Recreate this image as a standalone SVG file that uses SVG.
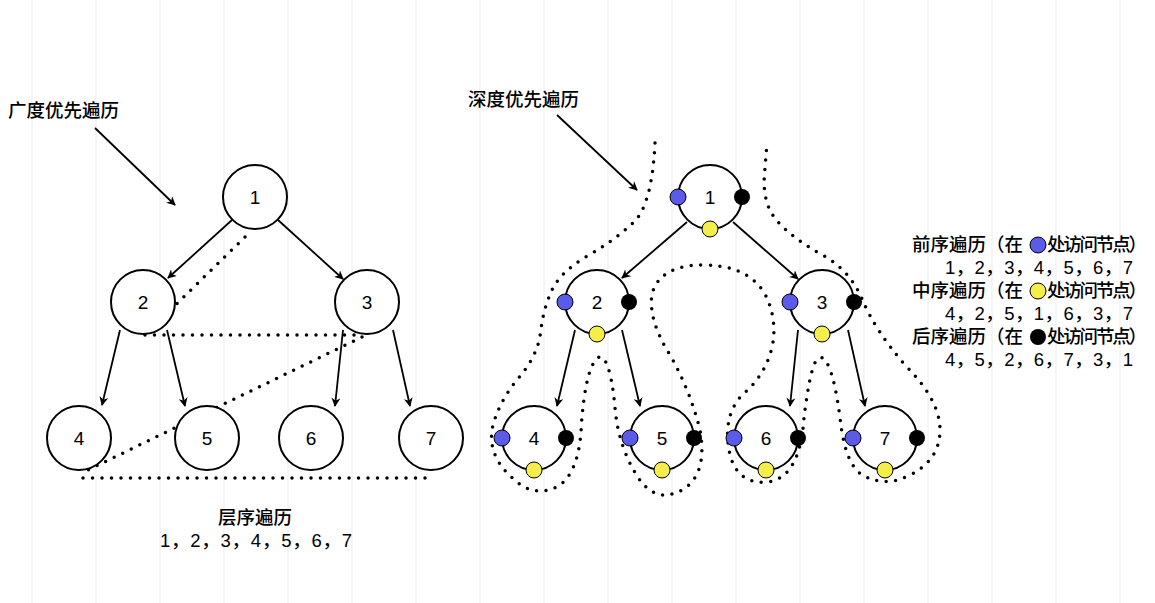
<svg xmlns="http://www.w3.org/2000/svg" width="1155" height="603" viewBox="0 0 1155 603">
<defs>
<marker id="ah" viewBox="0 0 10 10" refX="9" refY="5" markerWidth="9" markerHeight="9" orient="auto" markerUnits="userSpaceOnUse"><path d="M0,0 L10,5 L0,10 L3,5 Z" fill="#000"/></marker>
<style>
.n{fill:#fff;stroke:#000;stroke-width:2}
.t{font-family:"Liberation Sans","Noto Sans CJK SC",sans-serif;font-size:19px;fill:#000}
.c{font-family:"Liberation Sans","Noto Sans CJK SC",sans-serif;font-size:18.5px;font-weight:500;fill:#000}
.e{stroke:#000;stroke-width:1.8;fill:none;marker-end:url(#ah)}
.d{stroke:#000;stroke-width:3.5;fill:none;stroke-linecap:round;stroke-dasharray:0 9.5}
.g{stroke:#ebebeb;stroke-width:1}
.b{fill:#5b5bea;stroke:#000;stroke-width:1}
.y{fill:#f4ee48;stroke:#000;stroke-width:1}
.k{fill:#000}
</style>
</defs>
<rect width="1155" height="603" fill="#fff"/>
<g id="grid">
<line class="g" x1="32" y1="0" x2="32" y2="603"/><line class="g" x1="96" y1="0" x2="96" y2="603"/><line class="g" x1="160" y1="0" x2="160" y2="603"/><line class="g" x1="224" y1="0" x2="224" y2="603"/><line class="g" x1="288" y1="0" x2="288" y2="603"/><line class="g" x1="352" y1="0" x2="352" y2="603"/><line class="g" x1="416" y1="0" x2="416" y2="603"/><line class="g" x1="480" y1="0" x2="480" y2="603"/><line class="g" x1="544" y1="0" x2="544" y2="603"/><line class="g" x1="608" y1="0" x2="608" y2="603"/><line class="g" x1="672" y1="0" x2="672" y2="603"/><line class="g" x1="736" y1="0" x2="736" y2="603"/><line class="g" x1="800" y1="0" x2="800" y2="603"/><line class="g" x1="864" y1="0" x2="864" y2="603"/><line class="g" x1="928" y1="0" x2="928" y2="603"/><line class="g" x1="992" y1="0" x2="992" y2="603"/><line class="g" x1="1056" y1="0" x2="1056" y2="603"/><line class="g" x1="1120" y1="0" x2="1120" y2="603"/>
</g>
<g id="connectors">
<line class="e" x1="95" y1="128" x2="175" y2="205"/>
<line class="e" x1="557" y1="115" x2="637" y2="190"/>
<line class="e" x1="232" y1="220" x2="168" y2="278"/>
<line class="e" x1="278" y1="220" x2="343" y2="279"/>
<line class="e" x1="120" y1="330" x2="102" y2="405"/>
<line class="e" x1="167" y1="330" x2="185" y2="406"/>
<line class="e" x1="343" y1="330" x2="335" y2="406"/>
<line class="e" x1="393" y1="330" x2="410" y2="406"/>
<line class="e" x1="687" y1="222" x2="622" y2="278"/>
<line class="e" x1="733" y1="222" x2="798" y2="279"/>
<line class="e" x1="575" y1="330" x2="557" y2="406"/>
<line class="e" x1="622" y1="330" x2="640" y2="406"/>
<line class="e" x1="798" y1="330" x2="790" y2="406"/>
<line class="e" x1="848" y1="330" x2="865" y2="406"/>
<path class="d" d="M245,237 L150,330 M145,335 L360,335 M362,337 L88,470 M83,478 L432,478"/>
<path class="d" d="M655,143 Q652,205 633.5,222.5 Q615,240 587.5,256 Q560,272 551.5,291 Q543,310 540.5,332.5 Q538,355 519,377.5 Q500,400 493,425 Q486,455 512.5,478 Q535,500 560,485 Q580,470 581.5,422.5 Q585,380 592.5,365 Q600,350 606,362.5 Q612,375 615,407.5 Q618,445 636.5,475 Q655,505 682,490 Q708,475 700,430 Q690,390 670,355 Q648,320 652,294 Q660,265 702.5,265 Q748,265 765,294 Q778,320 772,347.5 Q765,375 745,392.5 Q725,410 728,442.5 Q732,485 767.5,482 Q800,478 804,417.5 Q810,370 816,361 Q822,352 828.5,366 Q835,380 840,417.5 Q845,465 862.5,475 Q885,488 910,475 Q940,460 940,430 Q940,400 905,365 Q875,330 862.5,300 Q850,270 822.5,255 Q795,240 778.5,222.5 Q762,205 764.5,174 L767,143"/>
</g>
<g id="bfs">
<g id="b1"><circle class="n" cx="255" cy="197" r="32"/><text class="t" x="255" y="204" text-anchor="middle">1</text></g>
<g id="b2"><circle class="n" cx="143" cy="302" r="32"/><text class="t" x="143" y="309" text-anchor="middle">2</text></g>
<g id="b3"><circle class="n" cx="367" cy="302" r="32"/><text class="t" x="367" y="309" text-anchor="middle">3</text></g>
<g id="b4"><circle class="n" cx="79" cy="438" r="32"/><text class="t" x="79" y="445" text-anchor="middle">4</text></g>
<g id="b5"><circle class="n" cx="207" cy="438" r="32"/><text class="t" x="207" y="445" text-anchor="middle">5</text></g>
<g id="b6"><circle class="n" cx="311" cy="438" r="32"/><text class="t" x="311" y="445" text-anchor="middle">6</text></g>
<g id="b7"><circle class="n" cx="431" cy="438" r="32"/><text class="t" x="431" y="445" text-anchor="middle">7</text></g>
</g>
<g id="dfs">
<g id="d1"><circle class="n" cx="710" cy="197" r="32"/><text class="t" x="710" y="204" text-anchor="middle">1</text><circle class="b" cx="678" cy="197" r="8"/><circle class="k" cx="742" cy="197" r="8"/><circle class="y" cx="710" cy="229" r="8"/></g>
<g id="d2"><circle class="n" cx="597" cy="302" r="32"/><text class="t" x="597" y="309" text-anchor="middle">2</text><circle class="b" cx="565" cy="302" r="8"/><circle class="k" cx="629" cy="302" r="8"/><circle class="y" cx="597" cy="334" r="8"/></g>
<g id="d3"><circle class="n" cx="822" cy="302" r="32"/><text class="t" x="822" y="309" text-anchor="middle">3</text><circle class="b" cx="790" cy="302" r="8"/><circle class="k" cx="854" cy="302" r="8"/><circle class="y" cx="822" cy="334" r="8"/></g>
<g id="d4"><circle class="n" cx="534" cy="438" r="32"/><text class="t" x="534" y="445" text-anchor="middle">4</text><circle class="b" cx="502" cy="438" r="8"/><circle class="k" cx="566" cy="438" r="8"/><circle class="y" cx="534" cy="470" r="8"/></g>
<g id="d5"><circle class="n" cx="662" cy="438" r="32"/><text class="t" x="662" y="445" text-anchor="middle">5</text><circle class="b" cx="630" cy="438" r="8"/><circle class="k" cx="694" cy="438" r="8"/><circle class="y" cx="662" cy="470" r="8"/></g>
<g id="d6"><circle class="n" cx="766" cy="438" r="32"/><text class="t" x="766" y="445" text-anchor="middle">6</text><circle class="b" cx="734" cy="438" r="8"/><circle class="k" cx="798" cy="438" r="8"/><circle class="y" cx="766" cy="470" r="8"/></g>
<g id="d7"><circle class="n" cx="885" cy="438" r="32"/><text class="t" x="885" y="445" text-anchor="middle">7</text><circle class="b" cx="853" cy="438" r="8"/><circle class="k" cx="917" cy="438" r="8"/><circle class="y" cx="885" cy="470" r="8"/></g>
</g>
<g id="labels">
<text class="c" x="8" y="117">广度优先遍历</text>
<text class="c" x="468" y="106">深度优先遍历</text>
<text class="c" x="255" y="524" text-anchor="middle">层序遍历</text>
<text class="c" x="160" y="547" textLength="192">1，2，3，4，5，6，7</text>
<text class="c" x="912" y="251">前序遍历（在</text><circle class="b" cx="1038" cy="245" r="8"/><text class="c" x="1047" y="251" textLength="100">处访问节点）</text>
<text class="c" x="945" y="274" textLength="188">1，2，3，4，5，6，7</text>
<text class="c" x="912" y="297">中序遍历（在</text><circle class="y" cx="1038" cy="291" r="8"/><text class="c" x="1047" y="297" textLength="100">处访问节点）</text>
<text class="c" x="945" y="320" textLength="188">4，2，5，1，6，3，7</text>
<text class="c" x="912" y="343">后序遍历（在</text><circle class="k" cx="1038" cy="337" r="8"/><text class="c" x="1047" y="343" textLength="100">处访问节点）</text>
<text class="c" x="945" y="366" textLength="188">4，5，2，6，7，3，1</text>
</g>
</svg>
